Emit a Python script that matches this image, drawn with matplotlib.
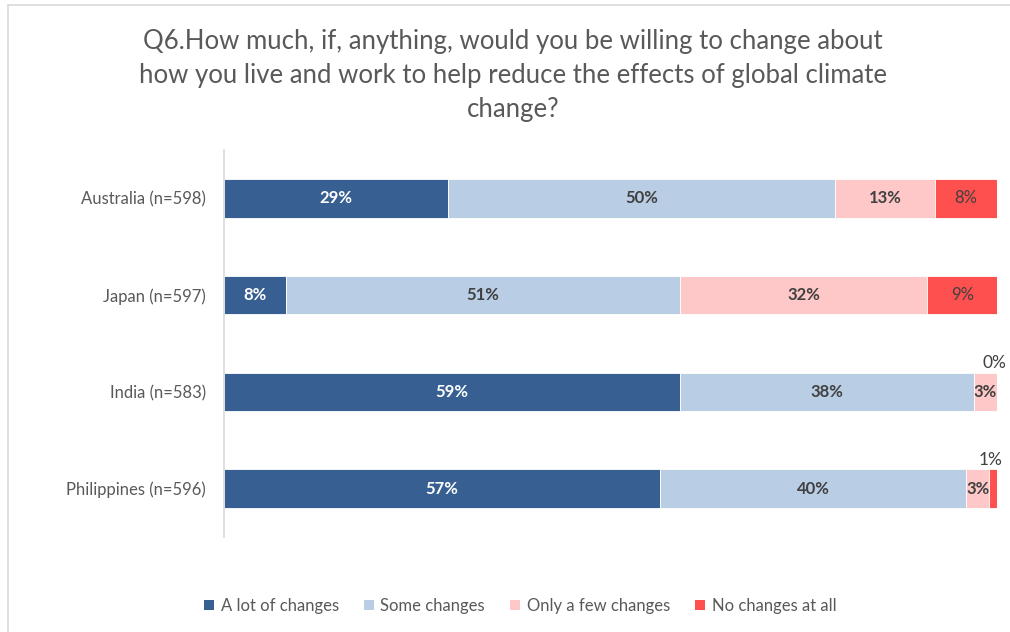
import matplotlib.pyplot as plt
from matplotlib.patches import Rectangle, Patch

countries = ["Australia (n=598)", "Japan (n=597)", "India (n=583)", "Philippines (n=596)"]
series_names = ["A lot of changes", "Some changes", "Only a few changes", "No changes at all"]
a_lot = [29, 8, 59, 57]
some = [50, 51, 38, 40]
few = [13, 32, 3, 3]
none_at_all = [8, 9, 0, 1]

colors = ["#375F92", "#B9CDE5", "#FFC8C8", "#FF5050"]
label_colors = ["white", "#404040", "#404040", "#404040"]
label_weights = ["bold", "bold", "bold", "normal"]

plt.rcParams["font.family"] = ["Lato", "DejaVu Sans"]

fig = plt.figure(figsize=(10.1, 6.32), dpi=100)
# chart-area frame (runs off the right and bottom edges)
fig.patches.append(Rectangle((0.008, -0.05), 1.1, 1.042, transform=fig.transFigure,
                             fill=False, edgecolor="#D9D9D9", linewidth=1.2))

ax = fig.add_axes([224 / 1010, 1 - 537 / 632, (997 - 224) / 1010, 387 / 632])

series = [a_lot, some, few, none_at_all]
totals = [sum(s[i] for s in series) for i in range(len(countries))]
ypos = list(range(len(countries)))

left = [0.0] * len(countries)
for k, vals in enumerate(series):
    widths = [v / t * 100 for v, t in zip(vals, totals)]
    ax.barh(ypos, widths, left=left, height=0.4, color=colors[k],
            edgecolor="white", linewidth=0.6, label=series_names[k])
    for i, (v, w) in enumerate(zip(vals, widths)):
        cx = left[i] + w / 2
        if w < 2:
            ax.text(cx - 0.3, i - 0.215, f"{v}%", ha="center", va="bottom",
                    color="#404040", fontsize=12.5)
        else:
            ax.text(cx, i, f"{v}%", ha="center", va="center",
                    color=label_colors[k], fontsize=12, fontweight=label_weights[k])
    left = [l + w for l, w in zip(left, widths)]

ax.set_xlim(0, 100)
ax.set_ylim(len(countries) - 0.5, -0.5)
ax.set_yticks(ypos)
ax.set_yticklabels(countries, fontsize=12, color="#595959")
ax.tick_params(axis="y", length=0, pad=13)
ax.set_xticks([])
for side in ["top", "right", "bottom"]:
    ax.spines[side].set_visible(False)
ax.spines["left"].set_color("#D9D9D9")
ax.spines["left"].set_linewidth(1.2)

fig.text(0.508, 1 - 29 / 632, "Q6.How much, if, anything, would you be willing to change about\n"
         "how you live and work to help reduce the effects of global climate\nchange?",
         ha="center", va="top", fontsize=18.5, color="#595959", linespacing=1.45)

handles = [Patch(facecolor=c, edgecolor="none") for c in colors]
fig.legend(handles, series_names, loc="center", bbox_to_anchor=(0.515, 1 - 606 / 632),
           ncol=4, frameon=False, fontsize=12, handlelength=0.6, handleheight=0.6,
           handletextpad=0.4, columnspacing=1.5, labelcolor="#595959")

fig.savefig("out.png", dpi=100)
